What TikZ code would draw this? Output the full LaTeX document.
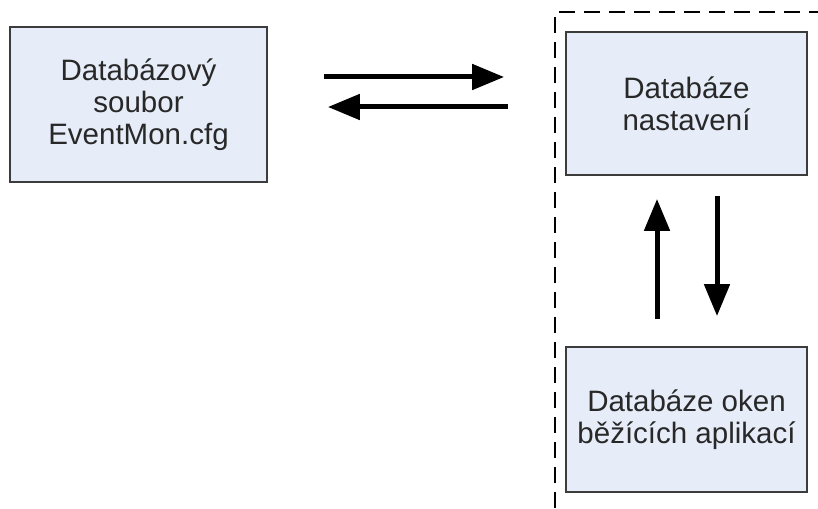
\documentclass[tikz,border=0pt]{standalone}
\usepackage{fontspec}
\setmainfont{Liberation Sans}
\usetikzlibrary{arrows.meta}
\definecolor{boxfill}{RGB}{230,236,248}
\definecolor{boxline}{RGB}{60,60,60}
\definecolor{boxtext}{RGB}{40,40,40}

\begin{document}
\begin{tikzpicture}[x=1pt,y=-1pt,
  dbbox/.style={draw=boxline,fill=boxfill,line width=1.8pt,align=center,
    text=boxtext,inner sep=0pt,font=\fontsize{29.5}{32}\selectfont},
  flow/.style={line width=5pt,-{Triangle[length=32pt,width=25pt]}}]
  \useasboundingbox (0,0) rectangle (818,508);
  \node[dbbox,minimum width=257pt,minimum height=155pt] (soubor) at (138.5,104.5)
    {Databázový\\soubor\\EventMon.cfg};
  \node[dbbox,minimum width=241pt,minimum height=143pt] (nast) at (686.5,103.5)
    {Databáze\\nastavení};
  \node[dbbox,minimum width=241pt,minimum height=145pt] (okna) at (686.5,419.5)
    {Databáze oken\\běžících aplikací};
  \draw[flow,shorten <=56pt,shorten >=61pt] (soubor.east |- 0,77) -- (nast.west |- 0,77);
  \draw[flow,shorten <=57pt,shorten >=60pt] (nast.west |- 0,107) -- (soubor.east |- 0,107);
  \draw[flow,shorten <=27pt,shorten >=23pt] (okna.north -| 657,0) -- (nast.south -| 657,0);
  \draw[flow,shorten <=20pt,shorten >=30pt] (nast.south -| 717,0) -- (okna.north -| 717,0);
  % hranice
  \draw[line width=2pt,dash pattern=on 16pt off 9pt] (555,508) -- (555,12) -- (818,12);
\end{tikzpicture}
\end{document}
